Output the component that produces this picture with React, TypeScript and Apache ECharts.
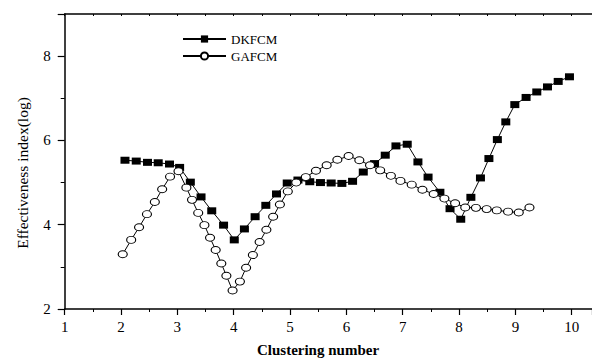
import React, { useEffect, useRef } from "react";
import * as echarts from "echarts";

const dkfcmX = [2.07, 2.27, 2.47, 2.66, 2.86, 3.04, 3.23, 3.42, 3.61, 3.82, 4.01, 4.19, 4.38, 4.57, 4.76, 4.95, 5.14, 5.35, 5.54, 5.73, 5.92, 6.11, 6.30, 6.50, 6.69, 6.88, 7.08, 7.27, 7.45, 7.66, 7.84, 8.03, 8.21, 8.38, 8.53, 8.68, 8.83, 8.99, 9.19, 9.38, 9.57, 9.76, 9.96];
const dkfcmY = [5.53, 5.51, 5.48, 5.47, 5.44, 5.36, 5.01, 4.66, 4.33, 3.99, 3.64, 3.90, 4.19, 4.46, 4.73, 4.99, 5.06, 5.02, 5.00, 4.99, 4.98, 5.03, 5.25, 5.45, 5.65, 5.87, 5.91, 5.49, 5.13, 4.77, 4.38, 4.13, 4.65, 5.11, 5.57, 6.02, 6.44, 6.85, 7.02, 7.15, 7.27, 7.40, 7.51];
const gafcmX = [2.03, 2.18, 2.32, 2.46, 2.60, 2.73, 2.87, 3.02, 3.16, 3.26, 3.37, 3.48, 3.58, 3.68, 3.78, 3.87, 3.98, 4.11, 4.22, 4.34, 4.46, 4.58, 4.70, 4.82, 4.96, 5.11, 5.28, 5.46, 5.65, 5.84, 6.04, 6.23, 6.42, 6.60, 6.79, 6.96, 7.16, 7.35, 7.55, 7.74, 7.93, 8.11, 8.30, 8.49, 8.67, 8.87, 9.06, 9.25];
const gafcmY = [3.30, 3.64, 3.94, 4.25, 4.54, 4.84, 5.14, 5.27, 4.88, 4.59, 4.28, 3.99, 3.69, 3.40, 3.08, 2.79, 2.44, 2.65, 2.98, 3.28, 3.59, 3.88, 4.19, 4.48, 4.79, 5.00, 5.13, 5.28, 5.41, 5.54, 5.63, 5.53, 5.41, 5.29, 5.16, 5.04, 4.95, 4.83, 4.73, 4.62, 4.51, 4.41, 4.40, 4.37, 4.34, 4.31, 4.29, 4.41];

const seriesNames = ["DKFCM", "GAFCM"];
const xTitle = "Clustering number";
const yTitle = "Effectiveness index(log)";

const FONT = "'Liberation Serif', 'Times New Roman', serif";
const ELLIPSE = "path://M1,0A1,1 0 1,1 -1,0A1,1 0 1,1 1,0Z";

export default function App() {
  const ref = useRef<HTMLDivElement>(null);
  useEffect(() => {
    const chart = echarts.init(ref.current!, null, { renderer: "svg" });
    const axisLine = { show: true, onZero: false, lineStyle: { color: "#000", width: 1.5 } };
    chart.setOption({
      animation: false,
      backgroundColor: "#fff",
      grid: { left: 64.7, top: 14, right: 0, bottom: 49 },
      legend: {
        orient: "vertical",
        left: 177,
        top: 27.5,
        itemWidth: 43,
        itemHeight: 9,
        itemGap: 4,
        textStyle: { fontFamily: FONT, fontSize: 13, color: "#000" },
        data: seriesNames,
      },
      xAxis: [
        {
          type: "value",
          min: 1,
          max: 10.36,
          interval: 1,
          axisLine,
          axisTick: { show: true, length: 6, lineStyle: { color: "#000", width: 1.2 } },
          minorTick: { show: true, splitNumber: 2, length: 3, lineStyle: { color: "#000", width: 1 } },
          axisLabel: { margin: 10, fontSize: 15, color: "#000", fontFamily: FONT, showMaxLabel: false },
          splitLine: { show: false },
        },
        {
          type: "value",
          position: "top",
          min: 1,
          max: 10.36,
          interval: 1,
          axisLine,
          axisTick: { show: true, inside: true, length: 2, lineStyle: { color: "#000", width: 1 } },
          minorTick: { show: true, splitNumber: 2, length: 2, lineStyle: { color: "#000", width: 1 } },
          axisLabel: { show: false },
          splitLine: { show: false },
        },
      ],
      yAxis: {
        type: "value",
        min: 2,
        max: 9,
        interval: 2,
        axisLine,
        axisTick: { show: true, length: 7, lineStyle: { color: "#000", width: 1.2 } },
        minorTick: { show: true, splitNumber: 2, length: 4, lineStyle: { color: "#000", width: 1 } },
        axisLabel: { margin: 14, fontSize: 15, color: "#000", fontFamily: FONT, showMaxLabel: false },
        splitLine: { show: false },
      },
      graphic: [
        {
          type: "text",
          x: 318,
          y: 350,
          style: { text: xTitle, font: `bold 15px ${FONT}`, fill: "#000", textAlign: "center", textVerticalAlign: "middle" },
        },
        {
          type: "text",
          x: 22,
          y: 173,
          rotation: Math.PI / 2,
          style: { text: yTitle, font: `15.5px ${FONT}`, fill: "#000", textAlign: "center", textVerticalAlign: "middle" },
        },
      ],
      series: [
        {
          name: seriesNames[0],
          type: "line",
          data: dkfcmX.map((x, i) => [x, dkfcmY[i]]),
          symbol: "rect",
          symbolSize: [9, 7],
          showAllSymbol: true,
          itemStyle: { color: "#000" },
          lineStyle: { color: "#000", width: 1 },
        },
        {
          name: seriesNames[1],
          type: "line",
          data: gafcmX.map((x, i) => [x, gafcmY[i]]),
          symbol: ELLIPSE,
          symbolSize: [9, 7],
          showAllSymbol: true,
          itemStyle: { color: "#fff", borderColor: "#000", borderWidth: 1 },
          lineStyle: { color: "#000", width: 1 },
        },
      ],
    });
    return () => chart.dispose();
  }, []);
  return <div ref={ref} style={{ position: "fixed", left: 0, top: 0, width: 592, height: 358 }} />;
}
